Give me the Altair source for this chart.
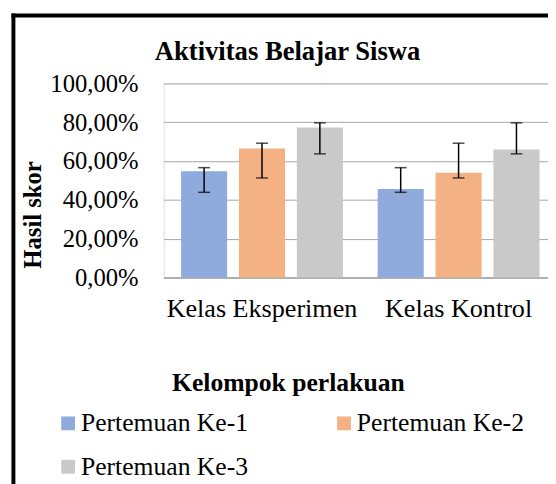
import altair as alt
import pandas as pd

groups = ["Kelas Eksperimen", "Kelas Kontrol"]
series = ["Pertemuan Ke-1", "Pertemuan Ke-2", "Pertemuan Ke-3"]
colors = ["#8FAADC", "#F4B183", "#C9C9C9"]

eksperimen = [0.547, 0.665, 0.773]
kontrol = [0.456, 0.540, 0.659]
err_low_eksperimen = [0.439, 0.513, 0.637]
err_high_eksperimen = [0.566, 0.692, 0.797]
err_low_kontrol = [0.439, 0.513, 0.637]
err_high_kontrol = [0.566, 0.692, 0.797]

y_ticks = [0, 0.2, 0.4, 0.6, 0.8, 1.0]

rows = []
for g, vals, lo, hi in [
    (groups[0], eksperimen, err_low_eksperimen, err_high_eksperimen),
    (groups[1], kontrol, err_low_kontrol, err_high_kontrol),
]:
    for s, v, l, h in zip(series, vals, lo, hi):
        rows.append({"kelas": g, "seri": s, "nilai": v, "low": l, "high": h})
df = pd.DataFrame(rows)

FONT = "Liberation Serif"
GRID = "#a6a6a6"

x_axis = alt.Axis(
    labelAngle=0,
    labelFont=FONT,
    labelFontSize=26.5,
    labelColor="black",
    labelPadding=19,
    labelLimit=400,
    ticks=False,
    domainColor=GRID,
    domainWidth=1.5,
    title="Kelompok perlakuan",
    titleFont=FONT,
    titleFontSize=26,
    titleFontWeight="bold",
    titleColor="black",
    titleX=126,
    titleY=115,
    titleAlign="center",
    titleBaseline="alphabetic",
)
x_scale = alt.Scale(range=[0, 399], paddingInner=0, paddingOuter=0)

y_axis = alt.Axis(
    values=y_ticks,
    tickCount=6,
    labelExpr="replace(format(datum.value, '.2%'), '.', ',')",
    labelOverlap=False,
    labelFont=FONT,
    labelFontSize=25,
    labelColor="black",
    labelPadding=26,
    ticks=False,
    domain=False,
    grid=True,
    gridColor=GRID,
    gridWidth=1,
    title="Hasil skor",
    titleFont=FONT,
    titleFontSize=25,
    titleFontWeight="bold",
    titleColor="black",
    titleAngle=-90,
    titleX=-125,
    titleY=133,
    titleAlign="center",
    titleBaseline="alphabetic",
)
y_scale = alt.Scale(domain=[0, 1], nice=False)

x_enc = alt.X("kelas:N", sort=groups, scale=x_scale, axis=x_axis)
xoff = alt.XOffset("seri:N", sort=series, scale=alt.Scale(paddingInner=0.204, paddingOuter=0.3))

bars = alt.Chart(df).mark_bar().encode(
    x=x_enc,
    xOffset=xoff,
    y=alt.Y("nilai:Q", scale=y_scale, axis=y_axis),
    color=alt.Color(
        "seri:N",
        sort=series,
        scale=alt.Scale(domain=series, range=colors),
        legend=alt.Legend(
            orient="none",
            direction="horizontal",
            legendX=-110,
            legendY=332,
            columns=2,
            columnPadding=84,
            rowPadding=18,
            symbolType="square",
            symbolSize=196,
            symbolStrokeWidth=0,
            labelFont=FONT,
            labelFontSize=26,
            labelColor="black",
            labelOffset=0,
            labelLimit=400,
            title=None,
        ),
    ),
)

err = alt.Chart(df).mark_rule(color="black", strokeWidth=1.5).encode(
    x=x_enc,
    xOffset=xoff,
    y=alt.Y("low:Q", scale=y_scale, axis=y_axis),
    y2="high:Q",
)
cap_hi = alt.Chart(df).mark_tick(color="black", thickness=1.5, size=12, orient="horizontal").encode(
    x=x_enc,
    xOffset=xoff,
    y=alt.Y("high:Q", scale=y_scale, axis=y_axis),
)
cap_lo = alt.Chart(df).mark_tick(color="black", thickness=1.5, size=12, orient="horizontal").encode(
    x=x_enc,
    xOffset=xoff,
    y=alt.Y("low:Q", scale=y_scale, axis=y_axis),
)

frame_df = pd.DataFrame({"a": [0]})
border_left = alt.Chart(frame_df).mark_rule(color="black", strokeWidth=4).encode(
    x=alt.value(-152.5), y=alt.value(-71), y2=alt.value(410)
)
border_top = alt.Chart(frame_df).mark_rule(color="black", strokeWidth=4).encode(
    x=alt.value(-154.5), x2=alt.value(400), y=alt.value(-69)
)

chart = (
    alt.layer(bars, err, cap_hi, cap_lo, border_left, border_top)
    .properties(
        width=390,
        height=197,
        autosize=alt.AutoSizeParams(type="none"),
        padding={"left": 158, "top": 73, "right": 0, "bottom": 206},
        title=alt.TitleParams(
            "Aktivitas Belajar Siswa",
            anchor="start",
            dx=-9,
            dy=76,
            offset=0,
            font=FONT,
            fontSize=27,
            fontWeight="bold",
            color="black",
            baseline="alphabetic",
            frame="group",
        ),
    )
    .configure_view(stroke=GRID, strokeWidth=1.5)
    .configure(font=FONT, background="white")
)

chart.save("out.html", embed_options={"renderer": "svg", "actions": False})
